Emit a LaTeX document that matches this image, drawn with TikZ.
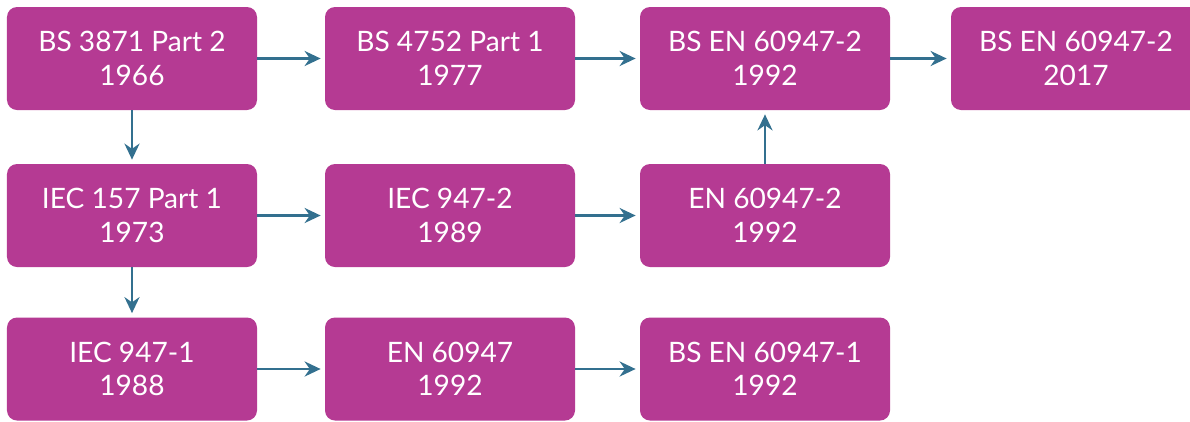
\documentclass[tikz,border=0pt]{standalone}
\usepackage{fontspec}
\setmainfont{Lato}
\usepackage{tikz}
\usetikzlibrary{positioning,arrows.meta}

\definecolor{stdpink}{HTML}{B53A93}
\definecolor{stdblue}{HTML}{33708F}

\begin{document}
\begin{tikzpicture}[node distance=3.1cm,on grid]

  \tikzset{
    std/.style={rectangle,rounded corners=2mm,fill=stdpink,text=white,
      minimum width=5cm,minimum height=2.06cm,align=center,
      font=\fontsize{16}{19}\selectfont},
    link/.style={-{Stealth[length=3.2mm,width=3mm]},draw=stdblue,
      line width=1.6pt,shorten >=0.8mm},
  }

  \useasboundingbox (-2.64,1.17) rectangle (21.16,-7.25);

   % TOP ROW

   \node[std] (bs3871) {BS 3871 Part 2\\1966};
   \node[std] (bs4752) [right=6.36cm of bs3871] {BS 4752 Part 1\\1977};
   \node[std] (bsen2a) [right=6.3cm of bs4752] {BS EN 60947-2\\1992};
   \node[std] (bsen2b) [right=6.22cm of bsen2a] {BS EN 60947-2\\2017};

   % MIDDLE ROW

   \node[std] (iec157) [below=3.14cm of bs3871] {IEC 157 Part 1\\1973};
   \node[std] (iec9472) [right=6.36cm of iec157] {IEC 947-2\\1989};
   \node[std] (en2) [right=6.3cm of iec9472] {EN 60947-2\\1992};

   % BOTTOM ROW

   \node[std] (iec9471) [below=3.07cm of iec157] {IEC 947-1\\1988};
   \node[std] (en1) [right=6.36cm of iec9471] {EN 60947\\1992};
   \node[std] (bsen1) [right=6.3cm of en1] {BS EN 60947-1\\1992};

   \draw[link] (bs3871) -- (bs4752);
   \draw[link] (bs4752) -- (bsen2a);
   \draw[link] (bsen2a) -- (bsen2b);
   \draw[link] (bs3871) -- (iec157);
   \draw[link] (iec157) -- (iec9472);
   \draw[link] (iec9472) -- (en2);
   \draw[link] (en2) -- (bsen2a);
   \draw[link] (iec157) -- (iec9471);
   \draw[link] (iec9471) -- (en1);
   \draw[link] (en1) -- (bsen1);

\end{tikzpicture}
\end{document}
